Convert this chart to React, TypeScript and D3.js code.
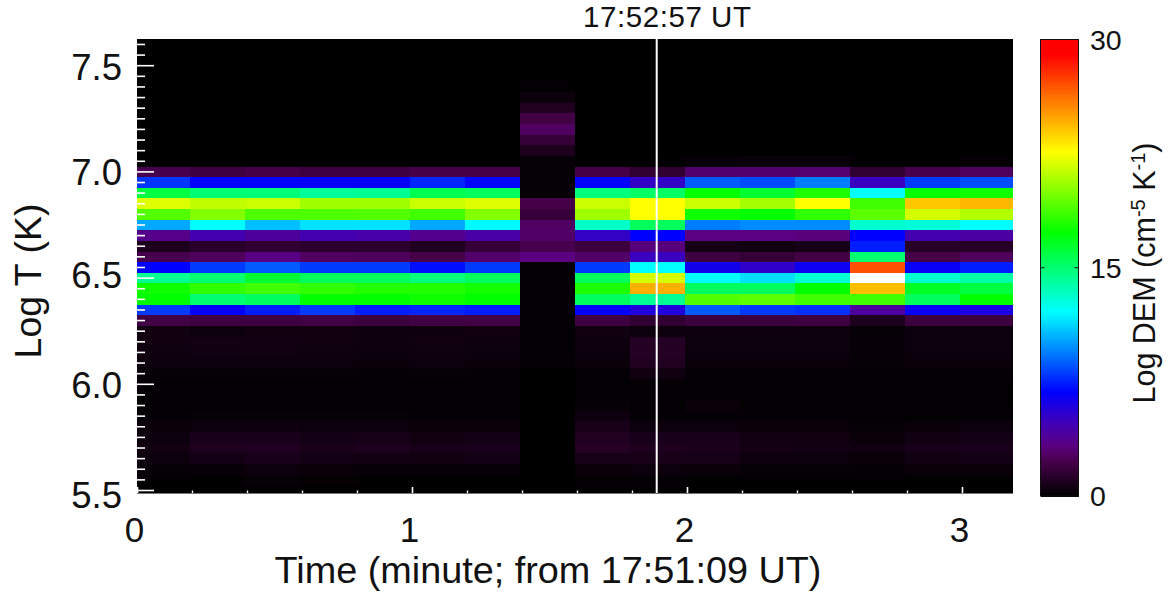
import React from "react";
import * as d3 from "d3";

// column start times (minutes), 16 exposures
const timeStarts = [-0.009, 0.191, 0.391, 0.591, 0.791, 0.991, 1.191, 1.391, 1.591, 1.791, 1.991, 2.191, 2.391, 2.591, 2.791, 2.991];
const logTCentres = [7.6, 7.55, 7.5, 7.45, 7.4, 7.35, 7.3, 7.25, 7.2, 7.15, 7.1, 7.05, 7.0, 6.95, 6.9, 6.85, 6.8, 6.75, 6.7, 6.65, 6.6, 6.55, 6.5, 6.45, 6.4, 6.35, 6.3, 6.25, 6.2, 6.15, 6.1, 6.05, 6.0, 5.95, 5.9, 5.85, 5.8, 5.75, 5.7, 5.65, 5.6, 5.55, 5.5];

const r760 = [0, 0, 0, 0, 0, 0, 0, 0, 0, 0, 0, 0, 0, 0, 0, 0];
const r755 = [0, 0, 0, 0, 0, 0, 0, 0, 0, 0, 0, 0, 0, 0, 0, 0];
const r750 = [0, 0, 0, 0, 0, 0, 0, 0, 0, 0, 0, 0, 0, 0, 0, 0];
const r745 = [0, 0, 0, 0, 0, 0, 0, 0, 0, 0, 0, 0, 0, 0, 0, 0];
const r740 = [0, 0, 0, 0, 0, 0, 0, 0.05, 0, 0, 0, 0, 0, 0, 0, 0];
const r735 = [0, 0, 0, 0, 0, 0, 0, 0.35, 0, 0, 0, 0, 0, 0, 0, 0];
const r730 = [0, 0, 0, 0, 0, 0, 0, 1.0, 0, 0, 0, 0, 0, 0, 0, 0];
const r725 = [0, 0, 0, 0, 0, 0, 0, 2.1, 0, 0, 0, 0, 0, 0, 0, 0];
const r720 = [0, 0, 0, 0, 0, 0, 0, 2.7, 0, 0, 0, 0, 0, 0, 0, 0];
const r715 = [0, 0, 0, 0, 0, 0, 0, 1.7, 0, 0, 0, 0, 0, 0, 0, 0];
const r710 = [0, 0, 0, 0, 0, 0, 0, 0.9, 0, 0, 0, 0, 0, 0, 0, 0];
const r705 = [0.05, 0.05, 0.05, 0.1, 0.1, 0.05, 0.1, 0.2, 0.1, 0.1, 0.25, 0.3, 0.3, 0.1, 0.1, 0.15];
const r700 = [2.3, 2.0, 2.2, 2.0, 2.0, 2.2, 2.2, 0.2, 2.2, 1.5, 2.9, 2.9, 3.0, 1.5, 2.3, 2.6];
const r695 = [7.9, 6.8, 6.8, 6.6, 6.6, 7.6, 6.9, 0.2, 6.8, 5.2, 8.7, 8.4, 9.4, 5.0, 8.0, 8.4];
const r690 = [16.0, 15.0, 14.9, 14.2, 14.3, 15.7, 15.4, 0.2, 14.8, 15.3, 17.3, 16.3, 17.9, 12.1, 17.3, 17.6];
const r685 = [21.9, 21.3, 21.5, 20.6, 20.6, 21.5, 21.9, 2.2, 21.5, 22.6, 21.5, 20.7, 22.6, 18.6, 24.0, 24.4];
const r680 = [19.0, 20.0, 18.9, 18.9, 19.0, 18.6, 20.0, 1.8, 20.6, 22.6, 17.6, 17.3, 18.3, 19.2, 21.7, 21.0];
const r675 = [10.3, 12.1, 10.8, 11.5, 11.5, 10.3, 12.0, 2.7, 13.2, 15.4, 9.4, 9.7, 9.7, 13.1, 12.9, 12.1];
const r670 = [3.6, 4.6, 4.0, 4.6, 4.4, 3.7, 4.3, 2.8, 5.2, 6.8, 3.3, 3.3, 3.2, 6.8, 4.6, 4.2];
const r665 = [0.9, 1.3, 1.5, 1.4, 1.4, 1.0, 1.7, 2.3, 1.9, 3.2, 0.6, 0.5, 0.7, 7.4, 1.2, 1.2];
const r660 = [2.3, 2.6, 3.4, 2.7, 2.6, 2.2, 2.9, 3.3, 2.8, 5.0, 2.0, 1.7, 2.1, 15.0, 2.2, 2.6];
const r655 = [6.8, 8.0, 8.7, 8.0, 8.0, 7.1, 8.0, 0.1, 8.0, 12.1, 6.2, 5.3, 6.4, 27.0, 6.6, 7.4];
const r650 = [14.3, 15.0, 16.3, 15.4, 15.4, 14.8, 15.4, 0.1, 15.4, 21.7, 12.1, 11.5, 13.0, 31.0, 13.1, 13.9];
const r645 = [17.6, 18.3, 18.6, 18.3, 18.0, 18.0, 17.7, 0.1, 17.9, 24.6, 15.4, 15.4, 17.3, 24.2, 16.6, 16.0];
const r640 = [17.3, 15.0, 15.4, 17.3, 17.3, 17.6, 17.3, 0.1, 15.4, 14.3, 19.0, 19.2, 18.6, 18.6, 15.4, 17.3];
const r635 = [8.0, 6.8, 7.4, 8.0, 7.4, 7.6, 7.4, 0.1, 6.8, 5.8, 8.7, 8.0, 7.8, 4.1, 6.6, 6.0];
const r630 = [2.1, 2.0, 2.0, 2.1, 1.9, 2.1, 2.1, 0.1, 2.0, 1.5, 1.9, 1.9, 2.0, 0.9, 1.9, 1.9];
const r625 = [0.5, 0.35, 0.5, 0.5, 0.45, 0.45, 0.5, 0.05, 0.5, 0.35, 0.45, 0.45, 0.4, 0.2, 0.4, 0.4];
const r620 = [0.5, 0.6, 0.55, 0.5, 0.45, 0.5, 0.4, 0.05, 0.45, 1.1, 0.4, 0.4, 0.4, 0.25, 0.4, 0.4];
const r615 = [0.45, 0.55, 0.5, 0.45, 0.4, 0.45, 0.4, 0.05, 0.4, 1.1, 0.35, 0.35, 0.35, 0.25, 0.35, 0.35];
const r610 = [0.35, 0.4, 0.4, 0.35, 0.3, 0.35, 0.3, 0.05, 0.3, 1.0, 0.3, 0.3, 0.3, 0.2, 0.3, 0.3];
const r605 = [0.2, 0.2, 0.2, 0.2, 0.15, 0.2, 0.15, 0.03, 0.15, 0.5, 0.15, 0.15, 0.15, 0.1, 0.15, 0.15];
const r600 = [0.1, 0.1, 0.1, 0.1, 0.08, 0.1, 0.08, 0.02, 0.08, 0.15, 0.08, 0.08, 0.08, 0.05, 0.08, 0.08];
const r595 = [0.08, 0.08, 0.08, 0.08, 0.08, 0.08, 0.08, 0.02, 0.08, 0.08, 0.08, 0.08, 0.05, 0.05, 0.05, 0.05];
const r590 = [0.1, 0.1, 0.1, 0.1, 0.1, 0.1, 0.1, 0.02, 0.2, 0.1, 0.3, 0.12, 0.12, 0.1, 0.1, 0.1];
const r585 = [0.15, 0.2, 0.2, 0.2, 0.2, 0.15, 0.15, 0.02, 0.45, 0.15, 0.15, 0.15, 0.15, 0.1, 0.1, 0.15];
const r580 = [0.3, 0.4, 0.45, 0.35, 0.35, 0.3, 0.3, 0.02, 0.75, 0.4, 0.4, 0.3, 0.3, 0.2, 0.3, 0.35];
const r575 = [0.4, 0.8, 0.8, 0.6, 0.7, 0.5, 0.65, 0.02, 1.0, 0.8, 0.8, 0.55, 0.5, 0.3, 0.55, 0.65];
const r570 = [0.5, 0.95, 1.0, 0.75, 0.9, 0.7, 0.8, 0.02, 1.1, 0.9, 0.85, 0.6, 0.55, 0.45, 0.7, 0.8];
const r565 = [0.35, 0.6, 0.8, 0.65, 0.55, 0.5, 0.6, 0.02, 0.7, 0.75, 0.7, 0.45, 0.4, 0.3, 0.55, 0.65];
const r560 = [0.2, 0.25, 0.35, 0.3, 0.25, 0.25, 0.25, 0.02, 0.3, 0.35, 0.3, 0.2, 0.2, 0.15, 0.3, 0.3];
const r555 = [0.08, 0.08, 0.2, 0.12, 0.1, 0.1, 0.1, 0.02, 0.12, 0.15, 0.1, 0.08, 0.08, 0.06, 0.1, 0.1];
const r550 = [0.03, 0.03, 0.05, 0.03, 0.03, 0.03, 0.03, 0.01, 0.05, 0.05, 0.03, 0.03, 0.03, 0.02, 0.03, 0.03];
const demRows = [r760, r755, r750, r745, r740, r735, r730, r725, r720, r715, r710, r705, r700, r695, r690, r685, r680, r675, r670, r665, r660, r655, r650, r645, r640, r635, r630, r625, r620, r615, r610, r605, r600, r595, r590, r585, r580, r575, r570, r565, r560, r555, r550];

const yMajor = [5.5, 6.0, 6.5, 7.0, 7.5];
const yMinor = [5.55, 5.6, 5.65, 5.7, 5.75, 5.8, 5.85, 5.9, 5.95, 6.05, 6.1, 6.15, 6.2, 6.25, 6.3, 6.35, 6.4, 6.45, 6.55, 6.6, 6.65, 6.7, 6.75, 6.8, 6.85, 6.9, 6.95, 7.05, 7.1, 7.15, 7.2, 7.25, 7.3, 7.35, 7.4, 7.45, 7.55, 7.6];
const xMajor = [0, 1, 2, 3];
const xMinor = [0.2, 0.4, 0.6, 0.8, 1.2, 1.4, 1.6, 1.8, 2.2, 2.4, 2.6, 2.8, 3.2];
const cursorTime = 1.888;
const cbarTicks = [0, 15, 30];
const colorStops = [0, 2.2, 3.3, 4.8, 6.8, 12.1, 17.3, 22.6, 29, 30];
const colorValues = ["#000000", "#450048", "#5a0080", "#4000b8", "#0000ff", "#00ffff", "#00ff00", "#ffff00", "#ff0000", "#ff0000"];

const FONT = "'Liberation Sans', Arial, sans-serif";
const plot = { l: 137, r: 1013, t: 39, b: 493.5 };
const bar = { l: 1040.5, r: 1078.5, t: 39.5, b: 496 };
// the reference's y labels do not sit evenly on their ticks (same order as yMajor)
const yLabelShift = [17.8, 13.5, 9.6, 13.5, 14];

export default function App() {
  const x = d3.scaleLinear().domain([0, 1]).range([137.5, 412.5]);
  const y = d3.scaleLinear().domain([5.5, 7.5]).range([490.5, 65.7]);
  const cbY = d3.scaleLinear().domain([0, 30]).range([bar.b, bar.t]);
  const color = d3.scaleLinear<string>().domain(colorStops).range(colorValues).clamp(true);
  const fill = (v: number) => (v > 30 ? "#ffffff" : color(v));
  const rowH = Math.abs(y(5.55) - y(5.5));
  const colW = x(0.2) - x(0);
  const cbVals = d3.range(0, 30, 0.1);

  return (
    <svg width={1172} height={593} style={{ position: "absolute", left: 0, top: 0, display: "block", background: "#fff" }} fontFamily={FONT}>
      <defs>
        <clipPath id="plotClip">
          <rect x={plot.l} y={plot.t} width={plot.r - plot.l} height={plot.b - plot.t} />
        </clipPath>
      </defs>
      <rect x={plot.l} y={plot.t} width={plot.r - plot.l} height={plot.b - plot.t} fill="#000" />
      <g clipPath="url(#plotClip)" shapeRendering="crispEdges">
        {demRows.map((row, i) =>
          row.map((v, j) => (
            <rect key={`${i}-${j}`} x={x(timeStarts[j])} y={y(logTCentres[i]) - rowH / 2} width={colW + 0.5} height={rowH + 0.5} fill={fill(v)} />
          ))
        )}
      </g>
      {/* cursor */}
      <line x1={x(cursorTime)} x2={x(cursorTime)} y1={plot.t} y2={plot.b} stroke="#fff" strokeWidth={2} />
      {/* y ticks */}
      {yMajor.map((t) => (
        <line key={t} x1={plot.l} x2={plot.l + 17} y1={y(t)} y2={y(t)} stroke="#fff" strokeWidth={1.6} />
      ))}
      {yMinor.map((t) => (
        <line key={t} x1={plot.l} x2={plot.l + 8} y1={y(t)} y2={y(t)} stroke="#fff" strokeWidth={1.6} />
      ))}
      {/* x ticks */}
      {xMajor.map((t) => (
        <line key={t} x1={x(t)} x2={x(t)} y1={plot.b} y2={plot.b - 6.5} stroke="#fff" strokeWidth={1.6} />
      ))}
      {xMinor.map((t) => (
        <line key={t} x1={x(t)} x2={x(t)} y1={plot.b} y2={plot.b - 3} stroke="#fff" strokeWidth={1.4} />
      ))}
      <line x1={plot.l} x2={plot.r} y1={plot.b} y2={plot.b} stroke="#777" strokeWidth={1} />
      {/* tick labels */}
      {yMajor.map((t, i) => (
        <text key={t} x={122} y={y(t) + yLabelShift[i]} textAnchor="end" fontSize={36.5} fill="#111">
          {d3.format(".1f")(t)}
        </text>
      ))}
      {xMajor.map((t) => (
        <text key={t} x={x(t) - 3} y={542} textAnchor="middle" fontSize={35} fill="#111">
          {t}
        </text>
      ))}
      <text x={548} y={583} textAnchor="middle" fontSize={37.8} fill="#111">Time (minute; from 17:51:09 UT)</text>
      <text transform="translate(41,281) rotate(-90)" textAnchor="middle" fontSize={37.5} fill="#111">Log T (K)</text>
      <text x={583} y={27} fontSize={29.5} textLength={168} fill="#111">17:52:57 UT</text>
      {/* colour bar */}
      <g shapeRendering="crispEdges">
        {cbVals.map((v) => (
          <rect key={v} x={bar.l} width={bar.r - bar.l} y={cbY(v + 0.1)} height={cbY(v) - cbY(v + 0.1) + 0.6} fill={color(v)} />
        ))}
      </g>
      <rect x={bar.l} y={bar.t} width={bar.r - bar.l} height={bar.b - bar.t} fill="none" stroke="#111" strokeWidth={1} />
      <line x1={bar.l} x2={bar.l + 4} y1={cbY(15)} y2={cbY(15)} stroke="#111" />
      <line x1={bar.r} x2={bar.r - 4} y1={cbY(15)} y2={cbY(15)} stroke="#111" />
      {cbarTicks.map((t) => (
        <text key={t} x={1090} y={cbY(t) + 10} fontSize={28.5} fill="#111">{t}</text>
      ))}
      <text transform="translate(1155,273) rotate(-90)" textAnchor="middle" fontSize={30.5} fill="#111">
        Log DEM (cm<tspan dy={-10} fontSize={20}>-5</tspan><tspan dy={10}> K</tspan><tspan dy={-10} fontSize={20}>-1</tspan><tspan dy={10}>)</tspan>
      </text>
    </svg>
  );
}
